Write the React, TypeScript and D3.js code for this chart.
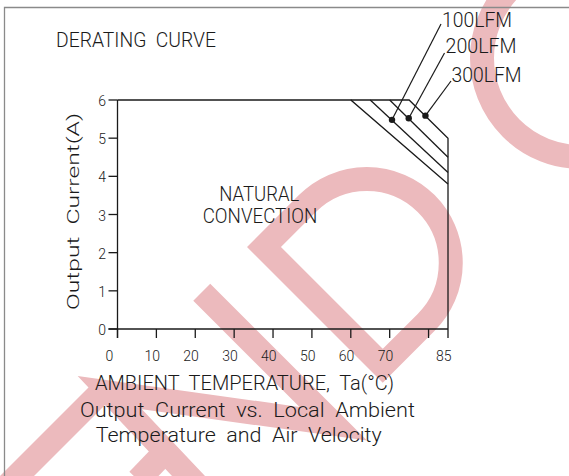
import React from "react";
import * as d3 from "d3";

// ---- data ----
const xTicks = [0, 10, 20, 30, 40, 50, 60, 70, 80, 85];
const xTickLabels = ["0", "10", "20", "30", "40", "50", "60", "70", "", "85"];
const yTicks = [0, 1, 2, 3, 4, 5, 6];
const yTickLabels = ["0", "1", "2", "3", "4", "5", "6"];

const naturalCurve: [number, number][] = [[0, 6], [60, 6], [85, 3.8]];
const lfm100Curve: [number, number][] = [[65, 6], [85, 4.1]];
const lfm200Curve: [number, number][] = [[70, 6], [85, 4.5]];
const lfm300Curve: [number, number][] = [[60, 6], [75, 6], [85, 5.0], [85, 0]];

const seriesNames = ["100LFM", "200LFM", "300LFM"];
const markerX = [70.6, 74.9, 79.2];
const markerY = [5.48, 5.52, 5.59];

// ---- layout ----
const W = 569;
const H = 476;
const FONT = "Roboto, 'Liberation Sans', sans-serif";
const INK = "#1a1a1a";
const PINK = "#ECBABD";

const labelAnchors = [
  { x: 442, y: 26.5, lx: 441, ly: 24, w: 70 },
  { x: 445.5, y: 53.3, lx: 444.5, ly: 53, w: 71 },
  { x: 451.5, y: 81.5, lx: 451, ly: 81, w: 70 },
];

const pre = { whiteSpace: "pre" as const };

export default function App() {
  const x = d3.scaleLinear().domain([0, 85]).range([117.5, 448]);
  const y = d3.scaleLinear().domain([0, 6]).range([329, 100]);
  const line = d3
    .line<[number, number]>()
    .x((d) => x(d[0]))
    .y((d) => y(d[1]));

  const curves = [naturalCurve, lfm100Curve, lfm200Curve, lfm300Curve];

  // watermark letters drawn in a frame rotated by -45deg
  const dPath = "M 73.4 12 L 12 12 L 12 180 L 73.4 180 A 84 84 0 0 0 73.4 12 Z";
  const nPath = "M -206 215 L -200 6 L -64 186 L -64 0";

  return (
    <svg
      width={W}
      height={H}
      style={{ position: "fixed", left: 0, top: 0, background: "#fff" }}
      fontFamily={FONT}
    >
      <rect x={0} y={0} width={W} height={H} fill="#fff" />
      {/* watermark */}
      <g fill="none" stroke={PINK} strokeWidth={24} strokeLinejoin="miter" strokeMiterlimit={6}>
        <circle cx={581} cy={58} r={99} />
        <g transform="translate(247,247) rotate(-45)">
          <path d={dPath} />
          <path d={nPath} />
        </g>
        <line x1={101} y1={392} x2={-10} y2={503} />
        <line x1={138} y1={480} x2={163} y2={454} />
      </g>

      {/* outer frame */}
      <path d={`M 4.5 ${H} L 4.5 7.5 L ${W} 7.5`} fill="none" stroke="#8a8a8a" strokeWidth={1.3} />

      {/* axes */}
      <g stroke={INK} strokeWidth={1.3} fill="none">
        <line x1={x(0)} y1={y(6)} x2={x(0)} y2={y(0) + 9} />
        <line x1={x(0) - 9} y1={y(0)} x2={x(85)} y2={y(0)} />
        {yTicks.map((t) => (
          <line key={"yt" + t} x1={x(0) - 9} x2={x(0)} y1={y(t)} y2={y(t)} />
        ))}
        {xTicks.map((t) => (
          <line key={"xt" + t} x1={x(t)} x2={x(t)} y1={y(0)} y2={y(0) + 9} />
        ))}
        {curves.map((c, i) => (
          <path key={"c" + i} d={line(c) || ""} />
        ))}
      </g>

      {/* markers and leaders */}
      {seriesNames.map((n, i) => (
        <g key={n}>
          <line
            x1={x(markerX[i])}
            y1={y(markerY[i])}
            x2={labelAnchors[i].lx}
            y2={labelAnchors[i].ly}
            stroke={INK}
            strokeWidth={1.2}
          />
          <circle cx={x(markerX[i])} cy={y(markerY[i])} r={3.2} fill={INK} />
          <text
            x={labelAnchors[i].x}
            y={labelAnchors[i].y}
            fontSize={19.5}
            fontWeight={300}
            fill={INK}
            textLength={labelAnchors[i].w}
            lengthAdjust="spacingAndGlyphs"
          >
            {n}
          </text>
        </g>
      ))}

      {/* tick labels */}
      <g fontSize={14} fontWeight={300} fill={INK}>
        {xTicks.map((t, i) =>
          xTickLabels[i] ? (
            <text key={"xl" + t} x={x(t) - 12} y={361}>
              {xTickLabels[i]}
            </text>
          ) : null
        )}
        {yTicks.map((t, i) => (
          <text key={"yl" + t} x={106} y={y(t) + 6} textAnchor="end">
            {yTickLabels[i]}
          </text>
        ))}
      </g>

      {/* texts */}
      <g fill={INK} fontWeight={300} style={pre}>
        <text x={56} y={47.3} fontSize={19.5} textLength={160} lengthAdjust="spacingAndGlyphs" style={pre}>
          {"DERATING  CURVE"}
        </text>
        <text x={219.3} y={200.7} fontSize={20} textLength={80} lengthAdjust="spacingAndGlyphs">
          NATURAL
        </text>
        <text x={202.7} y={223.3} fontSize={20} textLength={114.6} lengthAdjust="spacingAndGlyphs">
          CONVECTION
        </text>
        <text
          transform="translate(78.5,211.5) rotate(-90)"
          textAnchor="middle"
          fontSize={17}
          textLength={197}
          lengthAdjust="spacingAndGlyphs"
          style={pre}
        >
          {"Output  Current(A)"}
        </text>
        <text x={95} y={390} fontSize={20} textLength={299} lengthAdjust="spacingAndGlyphs" style={pre}>
          {"AMBIENT  TEMPERATURE,  Ta(°C)"}
        </text>
        <text x={80} y={416.7} fontSize={20} textLength={335} lengthAdjust="spacingAndGlyphs" style={pre}>
          {"Output  Current  vs.  Local  Ambient"}
        </text>
        <text x={95.7} y={442.3} fontSize={20} textLength={286} lengthAdjust="spacingAndGlyphs" style={pre}>
          {"Temperature  and  Air  Velocity"}
        </text>
      </g>
    </svg>
  );
}
